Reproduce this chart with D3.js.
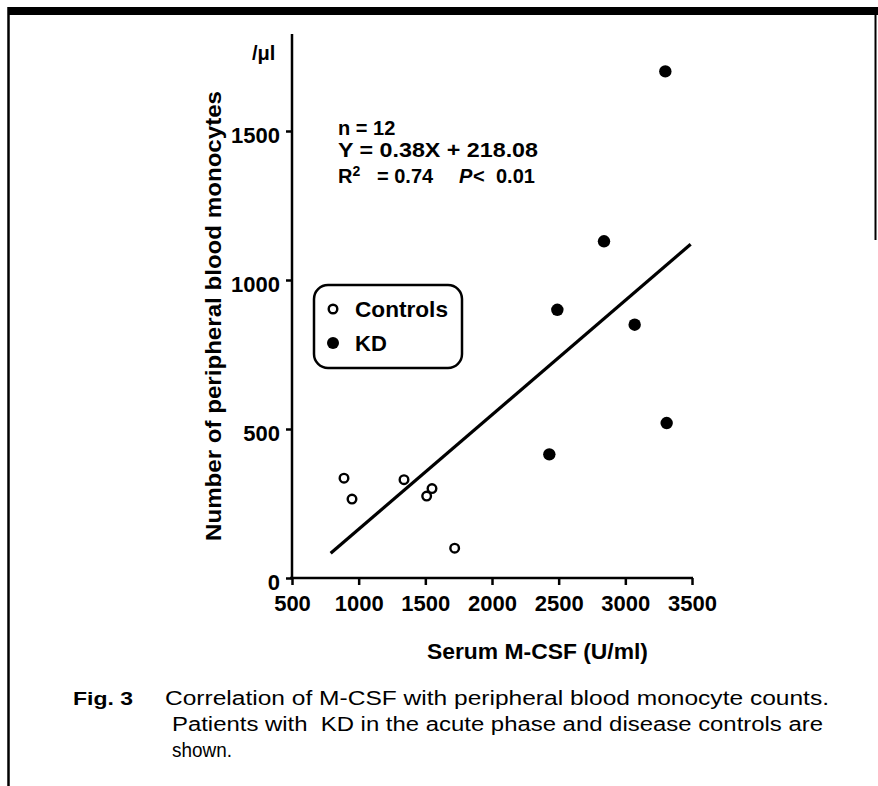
<!DOCTYPE html>
<html>
<head>
<meta charset="utf-8">
<script src="https://cdn.jsdelivr.net/npm/d3@7"></script>
<style>
  html, body { margin: 0; padding: 0; background: #fff; }
  svg { display: block; }
  text { font-family: "Liberation Sans", Arial, Helvetica, sans-serif; fill: #000; }
</style>
</head>
<body>
<svg id="chart" width="878" height="786"></svg>
<script>
// ---- data ----
const xTicks = [500, 1000, 1500, 2000, 2500, 3000, 3500];
const yTicks = [0, 500, 1000, 1500];
const controlsX = [890, 950, 1340, 1510, 1550, 1720];
const controlsY = [335, 265, 330, 275, 300, 100];
const kdX = [3300, 2840, 2490, 3070, 3310, 2430];
const kdY = [1700, 1130, 900, 850, 520, 415];
const fitX = [790, 3490];
const fitY = [83, 1120];
const legendLabels = ["Controls", "KD"];
const annotationLines = ["n = 12", "Y = 0.38X + 218.08"];
const captionLines = [
  "Correlation of M-CSF with peripheral blood monocyte counts.",
  "Patients with  KD in the acute phase and disease controls are",
  "shown."
];

const svg = d3.select("#chart");

// ---- frame ----
svg.append("rect").attr("x", 8).attr("y", 7).attr("width", 870).attr("height", 8).attr("fill", "#000");
svg.append("line").attr("x1", 8.5).attr("x2", 8.5).attr("y1", 7).attr("y2", 786).attr("stroke", "#000").attr("stroke-width", 2.5);
svg.append("line").attr("x1", 875.5).attr("x2", 875.5).attr("y1", 7).attr("y2", 240).attr("stroke", "#000").attr("stroke-width", 2);

// ---- scales ----
const x = d3.scaleLinear().domain([500, 3500]).range([292, 692]);
const y = d3.scaleLinear().domain([0, 1500]).range([578, 131]);

// ---- axes ----
const xAxis = svg.append("g").attr("transform", `translate(0,${y(0)})`)
  .call(d3.axisBottom(x).tickValues(xTicks).tickSize(7).tickPadding(10).tickFormat(d3.format("d")));
const yAxis = svg.append("g").attr("transform", `translate(${x(500)},0)`)
  .call(d3.axisLeft(y).tickValues(yTicks).tickSize(6).tickPadding(6).tickFormat(d3.format("d")));

[xAxis, yAxis].forEach(g => {
  g.select(".domain").remove();
  g.selectAll(".tick line").attr("stroke", "#000").attr("stroke-width", 2.5);
  g.selectAll(".tick text").attr("font-size", 22).attr("font-weight", "bold")
    .attr("font-family", "'Liberation Sans', Arial, sans-serif").attr("fill", "#000");
});
yAxis.selectAll(".tick text").attr("dy", "0.5em");
// axis lines
svg.append("line").attr("x1", x(500)).attr("x2", x(500)).attr("y1", 34).attr("y2", y(0) + 1)
  .attr("stroke", "#000").attr("stroke-width", 2.5);
svg.append("line").attr("x1", x(500) - 2).attr("x2", x(3500) + 1).attr("y1", y(0)).attr("y2", y(0))
  .attr("stroke", "#000").attr("stroke-width", 2.5);

// unit
svg.append("text").attr("x", 252).attr("y", 60).attr("font-size", 20).attr("font-weight", "bold").text("/μl");

// axis titles
svg.append("text").attr("x", (427 + 648) / 2).attr("y", 659).attr("text-anchor", "middle")
  .attr("font-size", 22).attr("font-weight", "bold").attr("textLength", 221).attr("lengthAdjust", "spacingAndGlyphs")
  .text("Serum M-CSF (U/ml)");
svg.append("text").attr("transform", "translate(221,316) rotate(-90)").attr("text-anchor", "middle")
  .attr("font-size", 22).attr("font-weight", "bold").attr("textLength", 450).attr("lengthAdjust", "spacingAndGlyphs")
  .text("Number of peripheral blood monocytes");

// ---- annotation ----
const ann = svg.append("g").attr("font-size", 20).attr("font-weight", "bold");
ann.append("text").attr("x", 338).attr("y", 135).text(annotationLines[0]);
ann.append("text").attr("x", 338).attr("y", 157).attr("textLength", 200).attr("lengthAdjust", "spacingAndGlyphs").text(annotationLines[1]);
const r2 = ann.append("text").attr("x", 338).attr("y", 183);
r2.append("tspan").text("R");
r2.append("tspan").attr("dy", -7).attr("font-size", 14).text("2");
r2.append("tspan").attr("x", 377).attr("y", 183).text("= 0.74");
r2.append("tspan").attr("x", 459).attr("y", 183).attr("font-style", "italic").text("P");
r2.append("tspan").attr("x", 473).attr("y", 183).text("<");
r2.append("tspan").attr("x", 496).attr("y", 183).text("0.01");

// ---- fit line ----
svg.append("line").attr("x1", x(fitX[0])).attr("y1", y(fitY[0])).attr("x2", x(fitX[1])).attr("y2", y(fitY[1]))
  .attr("stroke", "#000").attr("stroke-width", 3.2);

// ---- points ----
const controls = controlsX.map((v, i) => ({ x: v, y: controlsY[i] }));
const kd = kdX.map((v, i) => ({ x: v, y: kdY[i] }));
svg.append("g").selectAll("circle").data(controls).join("circle")
  .attr("cx", d => x(d.x)).attr("cy", d => y(d.y)).attr("r", 4.3)
  .attr("fill", "#fff").attr("stroke", "#000").attr("stroke-width", 2.4);
svg.append("g").selectAll("circle").data(kd).join("circle")
  .attr("cx", d => x(d.x)).attr("cy", d => y(d.y)).attr("r", 6.2).attr("fill", "#000");

// ---- legend ----
const lg = svg.append("g");
lg.append("rect").attr("x", 314).attr("y", 285).attr("width", 148).attr("height", 83).attr("rx", 14).attr("ry", 14)
  .attr("fill", "#fff").attr("stroke", "#000").attr("stroke-width", 2.5);
lg.append("circle").attr("cx", 333).attr("cy", 309).attr("r", 4.3).attr("fill", "#fff").attr("stroke", "#000").attr("stroke-width", 2.4);
lg.append("circle").attr("cx", 333).attr("cy", 343).attr("r", 6).attr("fill", "#000");
lg.append("text").attr("x", 355).attr("y", 317).attr("font-size", 22).attr("font-weight", "bold")
  .attr("textLength", 93).attr("lengthAdjust", "spacingAndGlyphs").text(legendLabels[0]);
lg.append("text").attr("x", 355).attr("y", 351).attr("font-size", 22).attr("font-weight", "bold").text(legendLabels[1]);

// ---- caption ----
svg.append("text").attr("x", 73).attr("y", 705).attr("font-size", 19).attr("font-weight", "bold")
  .attr("textLength", 60).attr("lengthAdjust", "spacingAndGlyphs").text("Fig. 3");
const capX = [165, 172, 172];
const capY = [705, 731, 757];
const capW = [664, 651, 60];
captionLines.forEach((t, i) => {
  svg.append("text").attr("x", capX[i]).attr("y", capY[i]).attr("font-size", 20)
    .style("white-space", "pre")
    .attr("textLength", capW[i]).attr("lengthAdjust", "spacingAndGlyphs").text(t);
});
</script>
</body>
</html>
